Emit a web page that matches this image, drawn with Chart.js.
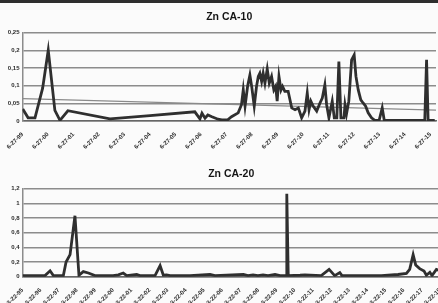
<!DOCTYPE html>
<html><head><meta charset="utf-8">
<script src="https://cdn.jsdelivr.net/npm/chart.js@4/dist/chart.umd.min.js"></script>
<style>
html,body{margin:0;padding:0;background:#fbfbfb;overflow:hidden;width:438px;height:303px;}
#wrap{position:relative;width:438px;height:303px;overflow:hidden;}
#topbar{position:absolute;left:0;top:0;width:438px;height:3px;background:#2e2e2e;z-index:2}
#c1{position:absolute;left:0;top:0}
#c2{position:absolute;left:0;top:150px}
</style></head>
<body><div id="wrap"><div id="topbar"></div>
<canvas id="c1" width="438" height="150"></canvas>
<canvas id="c2" width="442" height="153"></canvas>
</div>
<script>
// ---- Chart 1: Zn CA-10 (x = years since 6-27-99) ----
const topTitle = 'Zn CA-10';
const topXLabels = ['6-27-99','6-27-00','6-27-01','6-27-02','6-27-03','6-27-04','6-27-05','6-27-06','6-27-07','6-27-08','6-27-09','6-27-10','6-27-11','6-27-12','6-27-13','6-27-14','6-27-15'];
const topYLabels = ['0','0,05','0,1','0,15','0,2','0,25'];
const topX = [0.01,0.22,0.49,0.79,1.01,1.27,1.47,1.78,3.43,5.0,6.76,6.96,7.04,7.16,7.27,7.43,7.67,7.82,8.06,8.20,8.46,8.59,8.66,8.73,8.83,8.92,8.99,9.09,9.18,9.25,9.31,9.38,9.44,9.51,9.60,9.68,9.77,9.86,9.93,9.99,10.06,10.14,10.20,10.29,10.42,10.56,10.69,10.82,10.95,11.08,11.17,11.24,11.31,11.40,11.54,11.67,11.76,11.86,11.93,12.02,12.15,12.23,12.33,12.41,12.49,12.61,12.65,12.71,12.80,12.91,13.01,13.08,13.17,13.27,13.36,13.46,13.56,13.69,13.82,13.99,14.11,14.19,15.78,15.85,15.91,16.17];
const topY = [0.034,0.009,0.009,0.093,0.2,0.03,0.002,0.029,0.006,0.015,0.026,0.006,0.022,0.008,0.017,0.012,0.005,0.003,0.004,0.012,0.023,0.046,0.088,0.042,0.098,0.13,0.098,0.042,0.098,0.126,0.135,0.112,0.135,0.107,0.147,0.107,0.126,0.088,0.098,0.056,0.126,0.088,0.098,0.084,0.084,0.037,0.032,0.037,0.009,0.028,0.079,0.032,0.056,0.042,0.028,0.051,0.065,0.102,0.046,0.009,0.056,0.009,0.009,0.168,0.009,0.009,0.046,0.02,0.056,0.173,0.187,0.126,0.088,0.06,0.051,0.042,0.023,0.009,0.002,0.002,0.037,0.002,0.002,0.173,0.002,0.002];
const trendX = [0, 16.22];
const trendY = [0.063, 0.031];

// ---- Chart 2: Zn CA-20 (x = years since 3-22-95) ----
const botTitle = 'Zn CA-20';
const botXLabels = ['3-22-95','3-22-96','3-22-97','3-22-98','3-22-99','3-22-00','3-22-01','3-22-02','3-22-03','3-22-04','3-22-05','3-22-06','3-22-07','3-22-08','3-22-09','3-22-10','3-22-11','3-22-12','3-22-13','3-22-14','3-22-15','3-22-16','3-22-17','3-22-18'];
const botYLabels = ['0','0,2','0,4','0,6','0,8','1','1,2'];
const botX = [0.01,1.24,1.52,1.70,2.25,2.40,2.62,2.89,3.11,3.35,3.63,3.99,4.99,5.28,5.55,5.74,6.29,6.47,7.30,7.58,7.76,7.94,8.13,9.23,10.33,10.6,12.17,12.42,12.70,12.97,13.25,13.53,13.91,14.19,14.52,14.56,14.64,15.29,15.56,16.46,16.89,17.20,17.48,17.60,19.77,20.69,21.15,21.33,21.52,21.66,21.88,22.12,22.25,22.44,22.56,22.80,23.0];
const botY = [0.015,0.015,0.08,0.015,0.015,0.2,0.3,0.83,0.02,0.07,0.05,0.015,0.015,0.025,0.05,0.015,0.03,0.015,0.015,0.15,0.02,0.025,0.015,0.015,0.03,0.015,0.03,0.015,0.025,0.015,0.025,0.015,0.03,0.015,0.015,1.13,0.015,0.02,0.025,0.015,0.1,0.015,0.055,0.015,0.015,0.03,0.045,0.1,0.30,0.16,0.11,0.077,0.02,0.06,0.015,0.1,0.08];

const pts = (xs, ys) => xs.map((x, i) => ({x, y: ys[i]}));
const tickFont = {family: 'Liberation Sans', size: 6, weight: 'bold'};
const titleFont = {family: 'Liberation Sans', size: 10.5, weight: 'bold'};

function makeOpts(title, xMax, xLabels, yMax, yStep, yLabels, xH, yW, tPad) {
  return {
    responsive: false, animation: false,
    layout: {padding: {left: 0, right: 2, top: 0, bottom: 0}},
    plugins: {
      legend: {display: false}, tooltip: {enabled: false},
      title: {display: true, fullSize: false, text: title, font: titleFont, color: '#151515', padding: tPad}
    },
    scales: {
      x: {
        type: 'linear', min: 0, max: xMax,
        afterFit: s => { s.height = xH; s.paddingLeft = 0; s.paddingRight = 0; },
        grid: {display: false},
        border: {display: true, color: '#666', width: 1.5},
        ticks: {stepSize: 1, includeBounds: false, autoSkip: false, maxRotation: 45, minRotation: 45,
          font: tickFont, color: '#2a2a2a', padding: 2,
          callback: v => (Number.isInteger(v) ? xLabels[v] : '')}
      },
      y: {
        min: 0, max: yMax,
        afterFit: s => { s.width = yW; },
        grid: {color: '#8c8c8c', lineWidth: 1.5, drawTicks: false},
        border: {display: true, color: '#8c8c8c', width: 1.5},
        ticks: {stepSize: yStep, font: tickFont, color: '#2a2a2a', padding: 3,
          callback: v => yLabels[Math.round(v / yStep)]}
      }
    }
  };
}

new Chart(document.getElementById('c1'), {
  type: 'line',
  data: {datasets: [
    {data: pts(topX, topY), borderColor: '#2f2f2f', borderWidth: 2.8, pointRadius: 0, tension: 0, order: 1},
    {data: pts(trendX, trendY), borderColor: '#8a8a8a', borderWidth: 1.3, pointRadius: 0, tension: 0, order: 2}
  ]},
  options: makeOpts(topTitle, 16.22, topXLabels, 0.25, 0.05, topYLabels, 29, 22.5, {top: 11, bottom: 9})
});

new Chart(document.getElementById('c2'), {
  type: 'line',
  data: {datasets: [
    {data: pts(botX, botY), borderColor: '#2f2f2f', borderWidth: 2.8, pointRadius: 0, tension: 0}
  ]},
  options: makeOpts(botTitle, 23, botXLabels, 1.2, 0.2, botYLabels, 26.3, 22.5, {top: 18, bottom: 8})
});
</script>
</body></html>
